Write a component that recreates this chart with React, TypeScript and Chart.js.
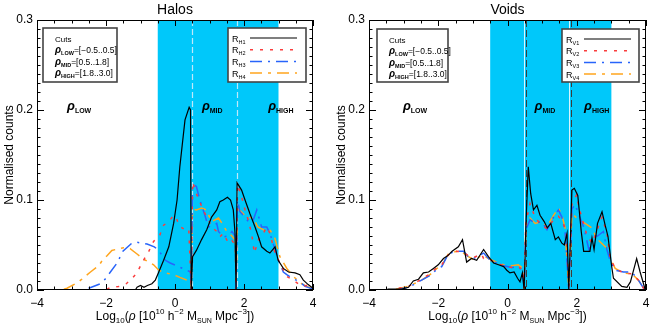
import React, { useEffect, useRef } from 'react';
import { Chart, registerables } from 'chart.js';

Chart.register(...registerables);

// ---------- data ----------
const X_RANGE = [-4, 4];
const Y_RANGE = [0, 0.3];
const X_TICK_STEP = 2;
const Y_TICK_STEP = 0.1;
const BAND = [-0.5, 3.0];
const CUT_LINES = [0.5, 1.8];
const CUT_NAMES = ['LOW', 'MID', 'HIGH'];
const CUT_RANGES = ['=[\u22120.5..0.5]', '=[0.5..1.8]', '=[1.8..3.0]'];
const PANEL_TITLES = ['Halos', 'Voids'];

// Halos
const RH1: [number, number][] = [
  [-4, 0], [-1.15, 0], [-1.1, 0.003], [-1.0, 0.005], [-0.9, 0.003], [-0.8, 0.005], [-0.67, 0.007],
  [-0.57, 0.011], [-0.47, 0.02], [-0.33, 0.033], [-0.18, 0.048], [-0.04, 0.074], [0.06, 0.1],
  [0.14, 0.137], [0.29, 0.189], [0.41, 0.203], [0.45, 0.2], [0.47, 0], [0.51, 0.037], [0.62, 0.044],
  [0.77, 0.056], [0.92, 0.067], [1.06, 0.081], [1.21, 0.089], [1.3, 0.098], [1.4, 0.1], [1.52, 0.103],
  [1.61, 0.1], [1.69, 0.089], [1.74, 0.063], [1.77, 0], [1.8, 0.119], [1.93, 0.111], [2.03, 0.1],
  [2.17, 0.085], [2.32, 0.07], [2.42, 0.059], [2.51, 0.048], [2.66, 0.043], [2.75, 0.041],
  [2.9, 0.048], [2.99, 0.033], [3.14, 0.024], [3.29, 0.02], [3.48, 0.019], [3.62, 0.017],
  [3.72, 0.011], [3.86, 0.006], [4, 0.002],
];
const RH2: [number, number][] = [
  [-4, 0], [-2.0, 0], [-1.87, 0.003], [-1.63, 0.004], [-1.41, 0.007], [-1.22, 0.014], [-1.1, 0.019],
  [-0.96, 0.03], [-0.76, 0.043], [-0.62, 0.054], [-0.44, 0.061], [-0.33, 0.072], [-0.18, 0.076],
  [-0.04, 0.083], [0.04, 0.08], [0.12, 0.071], [0.29, 0.067], [0.4, 0.068], [0.47, 0], [0.51, 0.12],
  [0.62, 0.107], [0.77, 0.093], [0.87, 0.085], [0.97, 0.078], [1.06, 0.07], [1.21, 0.065],
  [1.3, 0.059], [1.4, 0.063], [1.55, 0.052], [1.65, 0.055], [1.75, 0.05], [1.77, 0], [1.81, 0.117],
  [1.93, 0.104], [2.03, 0.089], [2.12, 0.078], [2.22, 0.063], [2.3, 0.041], [2.42, 0.056],
  [2.56, 0.063], [2.66, 0.07], [2.75, 0.063], [2.9, 0.041], [3.04, 0.03], [3.24, 0.015],
  [3.43, 0.011], [3.57, 0.007], [3.72, 0.004], [3.91, 0.006], [4, 0.002],
];
const RH3: [number, number][] = [
  [-4, 0], [-2.6, 0], [-2.5, 0.002], [-2.16, 0.007], [-2.0, 0.013], [-1.93, 0.017], [-1.68, 0.03],
  [-1.51, 0.043], [-1.25, 0.052], [-1.1, 0.053], [-0.81, 0.051], [-0.6, 0.048], [-0.47, 0.044],
  [-0.28, 0.033], [-0.14, 0.03], [0.1, 0.026], [0.34, 0.022], [0.45, 0.02], [0.47, 0], [0.51, 0.118],
  [0.62, 0.115], [0.72, 0.1], [0.85, 0.085], [0.97, 0.07], [1.1, 0.072], [1.21, 0.074], [1.26, 0.065],
  [1.4, 0.059], [1.55, 0.06], [1.65, 0.065], [1.75, 0.06], [1.77, 0], [1.81, 0.1], [1.88, 0.087],
  [2.0, 0.082], [2.15, 0.075], [2.27, 0.078], [2.37, 0.089], [2.51, 0.07], [2.66, 0.07],
  [2.75, 0.063], [2.9, 0.045], [3.0, 0.033], [3.14, 0.02], [3.24, 0.017], [3.4, 0.013],
  [3.62, 0.009], [3.77, 0.004], [4, 0.001],
];
const RH4: [number, number][] = [
  [-4, 0], [-3.3, 0], [-3.13, 0.002], [-2.84, 0.008], [-2.7, 0.012], [-2.45, 0.02], [-2.21, 0.027],
  [-2.07, 0.035], [-1.97, 0.038], [-1.83, 0.044], [-1.49, 0.047], [-1.3, 0.046], [-1.1, 0.04],
  [-0.9, 0.034], [-0.62, 0.028], [-0.47, 0.022], [-0.28, 0.019], [-0.04, 0.017], [0.14, 0.014],
  [0.34, 0.011], [0.45, 0.01], [0.47, 0], [0.51, 0.09], [0.62, 0.089], [0.77, 0.091], [0.91, 0.089],
  [1.06, 0.076], [1.26, 0.08], [1.4, 0.072], [1.5, 0.065], [1.65, 0.06], [1.75, 0.055], [1.77, 0],
  [1.81, 0.09], [1.86, 0.089], [2.08, 0.081], [2.27, 0.08], [2.4, 0.07], [2.56, 0.067], [2.75, 0.067],
  [2.9, 0.057], [3.04, 0.037], [3.24, 0.024], [3.43, 0.015], [3.67, 0.007], [3.82, 0.004], [4, 0.001],
];

// Voids
const RV1: [number, number][] = [
  [-4, 0], [-3.54, 0], [-3.44, 0.001], [-3.05, 0.001], [-2.86, 0.003], [-2.72, 0.01], [-2.57, 0.012],
  [-2.43, 0.019], [-2.28, 0.02], [-2.14, 0.024], [-2.0, 0.028], [-1.85, 0.035], [-1.73, 0.038],
  [-1.6, 0.043], [-1.42, 0.048], [-1.3, 0.056], [-1.18, 0.031], [-1.04, 0.035], [-0.89, 0.033],
  [-0.69, 0.045], [-0.55, 0.037], [-0.4, 0.03], [-0.26, 0.028], [-0.11, 0.026], [-0.02, 0.022],
  [0.07, 0.019], [0.19, 0.02], [0.29, 0.013], [0.36, 0.009], [0.43, 0.019], [0.48, 0], [0.53, 0.07],
  [0.6, 0.137], [0.67, 0.107], [0.75, 0.089], [0.85, 0.094], [0.94, 0.083], [1.06, 0.076],
  [1.15, 0.069], [1.25, 0.074], [1.38, 0.056], [1.47, 0.059], [1.57, 0.052], [1.64, 0.05],
  [1.72, 0.063], [1.77, 0], [1.86, 0.111], [1.93, 0.113], [2.03, 0.105], [2.13, 0.065], [2.2, 0.043],
  [2.38, 0.043], [2.44, 0.058], [2.5, 0.045], [2.6, 0.074], [2.73, 0.087], [2.82, 0.072], [2.9, 0.06],
  [3.01, 0.026], [3.06, 0.013], [3.3, 0.004], [3.45, 0.003], [3.55, 0.009], [3.73, 0.035],
  [3.83, 0.02], [3.98, 0], [4, 0],
];
const RV2: [number, number][] = [
  [-4, 0], [-3.3, 0], [-3.15, 0.002], [-2.86, 0.004], [-2.48, 0.012], [-2.24, 0.018], [-2.04, 0.025],
  [-1.9, 0.028], [-1.71, 0.039], [-1.47, 0.043], [-1.27, 0.042], [-1.13, 0.038], [-0.98, 0.036],
  [-0.75, 0.04], [-0.69, 0.035], [-0.5, 0.033], [-0.31, 0.03], [-0.11, 0.027], [0.12, 0.025],
  [0.31, 0.026], [0.45, 0.022], [0.48, 0], [0.53, 0.075], [0.65, 0.096], [0.8, 0.08], [0.99, 0.072],
  [1.14, 0.068], [1.33, 0.078], [1.47, 0.082], [1.57, 0.077], [1.7, 0.065], [1.77, 0], [1.86, 0.095],
  [2.0, 0.106], [2.05, 0.094], [2.15, 0.08], [2.3, 0.06], [2.45, 0.052], [2.6, 0.068], [2.73, 0.081],
  [2.87, 0.063], [2.97, 0.035], [3.11, 0.024], [3.35, 0.019], [3.59, 0.018], [3.78, 0.011],
  [3.93, 0.002], [4, 0],
];
const RV3: [number, number][] = [
  [-4, 0], [-3.2, 0], [-3.0, 0.002], [-2.8, 0.004], [-2.48, 0.011], [-2.24, 0.016], [-2.04, 0.023],
  [-1.9, 0.026], [-1.71, 0.04], [-1.51, 0.043], [-1.27, 0.043], [-1.13, 0.037], [-0.98, 0.035],
  [-0.69, 0.041], [-0.5, 0.033], [-0.31, 0.03], [-0.11, 0.027], [0.12, 0.025], [0.31, 0.026],
  [0.45, 0.02], [0.48, 0], [0.53, 0.067], [0.65, 0.078], [0.8, 0.074], [0.99, 0.076], [1.14, 0.067],
  [1.33, 0.081], [1.47, 0.089], [1.57, 0.081], [1.66, 0.067], [1.77, 0], [1.86, 0.09], [1.95, 0.095],
  [2.05, 0.085], [2.2, 0.07], [2.35, 0.045], [2.45, 0.06], [2.6, 0.06], [2.77, 0.065], [2.87, 0.045],
  [2.97, 0.032], [3.11, 0.022], [3.35, 0.02], [3.59, 0.02], [3.78, 0.011], [3.93, 0.002], [4, 0],
];
const RV4: [number, number][] = [
  [-4, 0], [-3.3, 0], [-3.1, 0.002], [-2.86, 0.004], [-2.48, 0.011], [-2.24, 0.017], [-2.04, 0.024],
  [-1.9, 0.027], [-1.71, 0.04], [-1.47, 0.043], [-1.27, 0.041], [-1.13, 0.037], [-0.94, 0.033],
  [-0.74, 0.039], [-0.5, 0.034], [-0.31, 0.031], [-0.11, 0.028], [0.12, 0.027], [0.31, 0.028],
  [0.45, 0.024], [0.48, 0], [0.53, 0.07], [0.65, 0.08], [0.8, 0.074], [0.99, 0.076], [1.14, 0.07],
  [1.33, 0.083], [1.47, 0.091], [1.57, 0.083], [1.66, 0.07], [1.77, 0], [1.86, 0.085], [2.0, 0.08],
  [2.24, 0.074], [2.44, 0.069], [2.58, 0.057], [2.77, 0.05], [2.9, 0.045], [2.97, 0.035],
  [3.11, 0.024], [3.35, 0.019], [3.59, 0.018], [3.78, 0.011], [3.93, 0.002], [4, 0],
];

// ---------- styles ----------
const FONT = "'Liberation Sans', Arial, Helvetica, sans-serif";
const BAND_COLOR = 'rgb(0,200,250)';
const STYLES = [
  { color: '#000000', dash: [] as number[], width: 1.2 },
  { color: 'rgb(250,60,60)', dash: [3, 7], width: 1.5 },
  { color: 'rgb(40,100,250)', dash: [12, 6, 2, 6], width: 1.5 },
  { color: 'rgb(255,165,30)', dash: [12, 6, 3, 6], width: 1.5 },
];

type Part = { t: string; s: number; dy?: number; it?: boolean; b?: boolean };

function fontOf(p: Part) {
  return `${p.it ? 'italic ' : ''}${p.b ? 'bold ' : ''}${p.s}px ${FONT}`;
}

function drawRich(ctx: CanvasRenderingContext2D, parts: Part[], x: number, y: number, align: 'left' | 'center') {
  let w = 0;
  for (const p of parts) {
    ctx.font = fontOf(p);
    w += ctx.measureText(p.t).width;
  }
  let cx = align === 'center' ? x - w / 2 : x;
  ctx.textAlign = 'left';
  ctx.textBaseline = 'alphabetic';
  for (const p of parts) {
    ctx.font = fontOf(p);
    ctx.fillText(p.t, cx, y + (p.dy || 0));
    cx += ctx.measureText(p.t).width;
  }
}

type PanelCfg = {
  key: string;
  title: string;
  series: [number, number][][];
  dark: boolean;
  padRight: number;
  regionX: number[];
  cutsBox: { x: number; y: number; w: number; h: number };
  legBox: { x: number; y: number; w: number; h: number };
};

const PANELS: PanelCfg[] = [
  {
    key: 'H', title: PANEL_TITLES[0], series: [RH1, RH2, RH3, RH4], dark: false, padRight: 19,
    regionX: [-3.13, 0.78, 2.7],
    cutsBox: { x: 43, y: 28, w: 74, h: 54 }, legBox: { x: 228, y: 28, w: 78, h: 54 },
  },
  {
    key: 'V', title: PANEL_TITLES[1], series: [RV1, RV2, RV3, RV4], dark: true, padRight: 18,
    regionX: [-3.02, 0.78, 2.21],
    cutsBox: { x: 45, y: 29, w: 71, h: 53 }, legBox: { x: 230, y: 29, w: 77, h: 53 },
  },
];

function makePlugin(cfg: PanelCfg) {
  return {
    id: 'panelDecor' + cfg.key,
    beforeDatasetsDraw(chart: any) {
      const ctx: CanvasRenderingContext2D = chart.ctx;
      const ca = chart.chartArea;
      const xs = chart.scales.x;
      ctx.save();
      const b0 = xs.getPixelForValue(BAND[0]);
      const b1 = xs.getPixelForValue(BAND[1]);
      ctx.fillStyle = BAND_COLOR;
      ctx.fillRect(b0, ca.top, b1 - b0, ca.bottom - ca.top);
      for (const c of CUT_LINES) {
        const px = Math.round(xs.getPixelForValue(c)) + 0.5;
        if (cfg.dark) {
          ctx.setLineDash([]);
          ctx.strokeStyle = 'rgba(235,250,255,0.9)';
          ctx.lineWidth = 1;
          ctx.beginPath(); ctx.moveTo(px - 1, ca.top); ctx.lineTo(px - 1, ca.bottom); ctx.stroke();
          ctx.setLineDash([7, 3]);
          ctx.strokeStyle = '#3c3c3c';
          ctx.beginPath(); ctx.moveTo(px + 1, ca.top); ctx.lineTo(px + 1, ca.bottom); ctx.stroke();
        } else {
          ctx.setLineDash([6, 3]);
          ctx.strokeStyle = 'rgb(190,232,250)';
          ctx.lineWidth = 1.2;
          ctx.beginPath(); ctx.moveTo(px, ca.top); ctx.lineTo(px, ca.bottom); ctx.stroke();
        }
      }
      ctx.restore();
    },
    afterDatasetsDraw(chart: any) {
      const ctx: CanvasRenderingContext2D = chart.ctx;
      const ca = chart.chartArea;
      const xs = chart.scales.x;
      const ys = chart.scales.y;
      ctx.save();
      ctx.setLineDash([]);
      // frame
      ctx.strokeStyle = '#000';
      ctx.lineWidth = 1;
      ctx.strokeRect(ca.left + 0.5, ca.top + 0.5, ca.right - ca.left - 1, ca.bottom - ca.top - 1);
      // y ticks
      ctx.beginPath();
      for (let i = 0; i <= 30; i++) {
        const py = Math.round(ys.getPixelForValue(i / 100)) + 0.5;
        const len = i % 10 === 0 ? 7 : 3.5;
        ctx.moveTo(ca.left, py); ctx.lineTo(ca.left + len, py);
        ctx.moveTo(ca.right, py); ctx.lineTo(ca.right - len, py);
      }
      // x ticks
      for (let i = -8; i <= 8; i++) {
        const px = Math.round(xs.getPixelForValue(i / 2)) + 0.5;
        const len = i % 4 === 0 ? 6 : 3.5;
        ctx.moveTo(px, ca.bottom); ctx.lineTo(px, ca.bottom - len);
        ctx.moveTo(px, ca.top); ctx.lineTo(px, ca.top + len);
      }
      ctx.stroke();

      ctx.fillStyle = '#000';
      // title
      drawRich(ctx, [{ t: cfg.title, s: 14 }], (ca.left + ca.right) / 2, 14, 'center');
      // x label
      drawRich(ctx, [
        { t: 'Log', s: 12 }, { t: '10', s: 8, dy: 3 }, { t: '(', s: 12 }, { t: '\u03c1', s: 12, it: true },
        { t: ' [10', s: 12 }, { t: '10', s: 8, dy: -6 }, { t: ' h', s: 12 }, { t: '\u22122', s: 8, dy: -6 },
        { t: ' M', s: 12 }, { t: 'SUN', s: 7, dy: 3 }, { t: ' Mpc', s: 12 }, { t: '\u22123', s: 8, dy: -6 },
        { t: '])', s: 12 },
      ], (ca.left + ca.right) / 2, 320, 'center');
      // y label
      ctx.save();
      ctx.translate(ca.left - 28, (ca.top + ca.bottom) / 2);
      ctx.rotate(-Math.PI / 2);
      drawRich(ctx, [{ t: 'Normalised counts', s: 12 }], 0, 4, 'center');
      ctx.restore();
      // region labels
      const ry = ys.getPixelForValue(0.2) + 0;
      cfg.regionX.forEach((rx, i) => {
        drawRich(ctx, [{ t: '\u03c1', s: 13, it: true, b: true }, { t: CUT_NAMES[i], s: 7, dy: 3, b: true }],
          xs.getPixelForValue(rx), ry, 'left');
      });
      // cuts box
      const cb = cfg.cutsBox;
      ctx.fillStyle = '#fff';
      ctx.fillRect(cb.x, cb.y, cb.w, cb.h);
      ctx.strokeStyle = '#444';
      ctx.lineWidth = 1.6;
      ctx.strokeRect(cb.x, cb.y, cb.w, cb.h);
      ctx.fillStyle = '#000';
      drawRich(ctx, [{ t: 'Cuts', s: 8 }], cb.x + 12, cb.y + 14, 'left');
      CUT_NAMES.forEach((n, i) => {
        drawRich(ctx, [
          { t: '\u03c1', s: 10, it: true, b: true }, { t: n, s: 5.5, dy: 2, b: true }, { t: CUT_RANGES[i], s: 8.5 },
        ], cb.x + 12, cb.y + 25 + i * 11.5, 'left');
      });
      // legend box
      const lb = cfg.legBox;
      ctx.fillStyle = '#fff';
      ctx.fillRect(lb.x, lb.y, lb.w, lb.h);
      ctx.strokeStyle = '#444';
      ctx.lineWidth = 1.6;
      ctx.strokeRect(lb.x, lb.y, lb.w, lb.h);
      STYLES.forEach((st, i) => {
        const cy = lb.y + 10 + i * 11.7;
        ctx.fillStyle = '#000';
        drawRich(ctx, [{ t: 'R', s: 9 }, { t: cfg.key + (i + 1), s: 5.5, dy: 2 }], lb.x + 4, cy + 3.5, 'left');
        ctx.strokeStyle = st.color;
        ctx.lineWidth = st.width;
        ctx.setLineDash(st.dash);
        ctx.beginPath(); ctx.moveTo(lb.x + 22, cy); ctx.lineTo(lb.x + 69, cy); ctx.stroke();
        ctx.setLineDash([]);
      });
      ctx.restore();
    },
  };
}

function Panel({ cfg }: { cfg: PanelCfg }) {
  const ref = useRef<HTMLCanvasElement>(null);
  useEffect(() => {
    const chart = new Chart(ref.current as HTMLCanvasElement, {
      type: 'line',
      data: {
        datasets: cfg.series.map((s, i) => ({
          label: 'R' + cfg.key + (i + 1),
          data: s.map(([x, y]) => ({ x, y })),
          borderColor: STYLES[i].color,
          borderWidth: STYLES[i].width,
          borderDash: STYLES[i].dash,
          pointRadius: 0,
          tension: 0,
          fill: false,
        })),
      },
      options: {
        animation: false,
        responsive: false,
        devicePixelRatio: 1,
        layout: { padding: { top: 20, right: cfg.padRight, left: 0, bottom: 0 } },
        plugins: { legend: { display: false }, tooltip: { enabled: false }, title: { display: false } },
        scales: {
          x: {
            type: 'linear', min: X_RANGE[0], max: X_RANGE[1],
            grid: { display: false, drawTicks: false }, border: { display: false },
            afterFit: (sc: any) => { sc.height = 41; },
            ticks: {
              stepSize: X_TICK_STEP, autoSkip: false, maxRotation: 0, padding: 6, color: '#000',
              font: { size: 12, family: FONT },
              callback: (v: any) => (Number(v) < 0 ? '\u2212' + Math.abs(Number(v)) : String(v)),
            },
          },
          y: {
            type: 'linear', min: Y_RANGE[0], max: Y_RANGE[1],
            grid: { display: false, drawTicks: false }, border: { display: false },
            afterFit: (sc: any) => { sc.width = 37; },
            ticks: {
              stepSize: Y_TICK_STEP, autoSkip: false, padding: 4, color: '#000',
              font: { size: 12, family: FONT },
              callback: (v: any) => Number(v).toFixed(1),
            },
          },
        },
      } as any,
      plugins: [makePlugin(cfg)],
    });
    return () => chart.destroy();
  }, []);
  return <canvas ref={ref} width={332} height={331} style={{ display: 'block', width: 332, height: 331 }} />;
}

export default function App() {
  return (
    <div style={{ position: 'fixed', left: 0, top: 0, width: 664, height: 331, background: '#fff', display: 'flex' }}>
      {PANELS.map((p) => <Panel key={p.key} cfg={p} />)}
    </div>
  );
}
